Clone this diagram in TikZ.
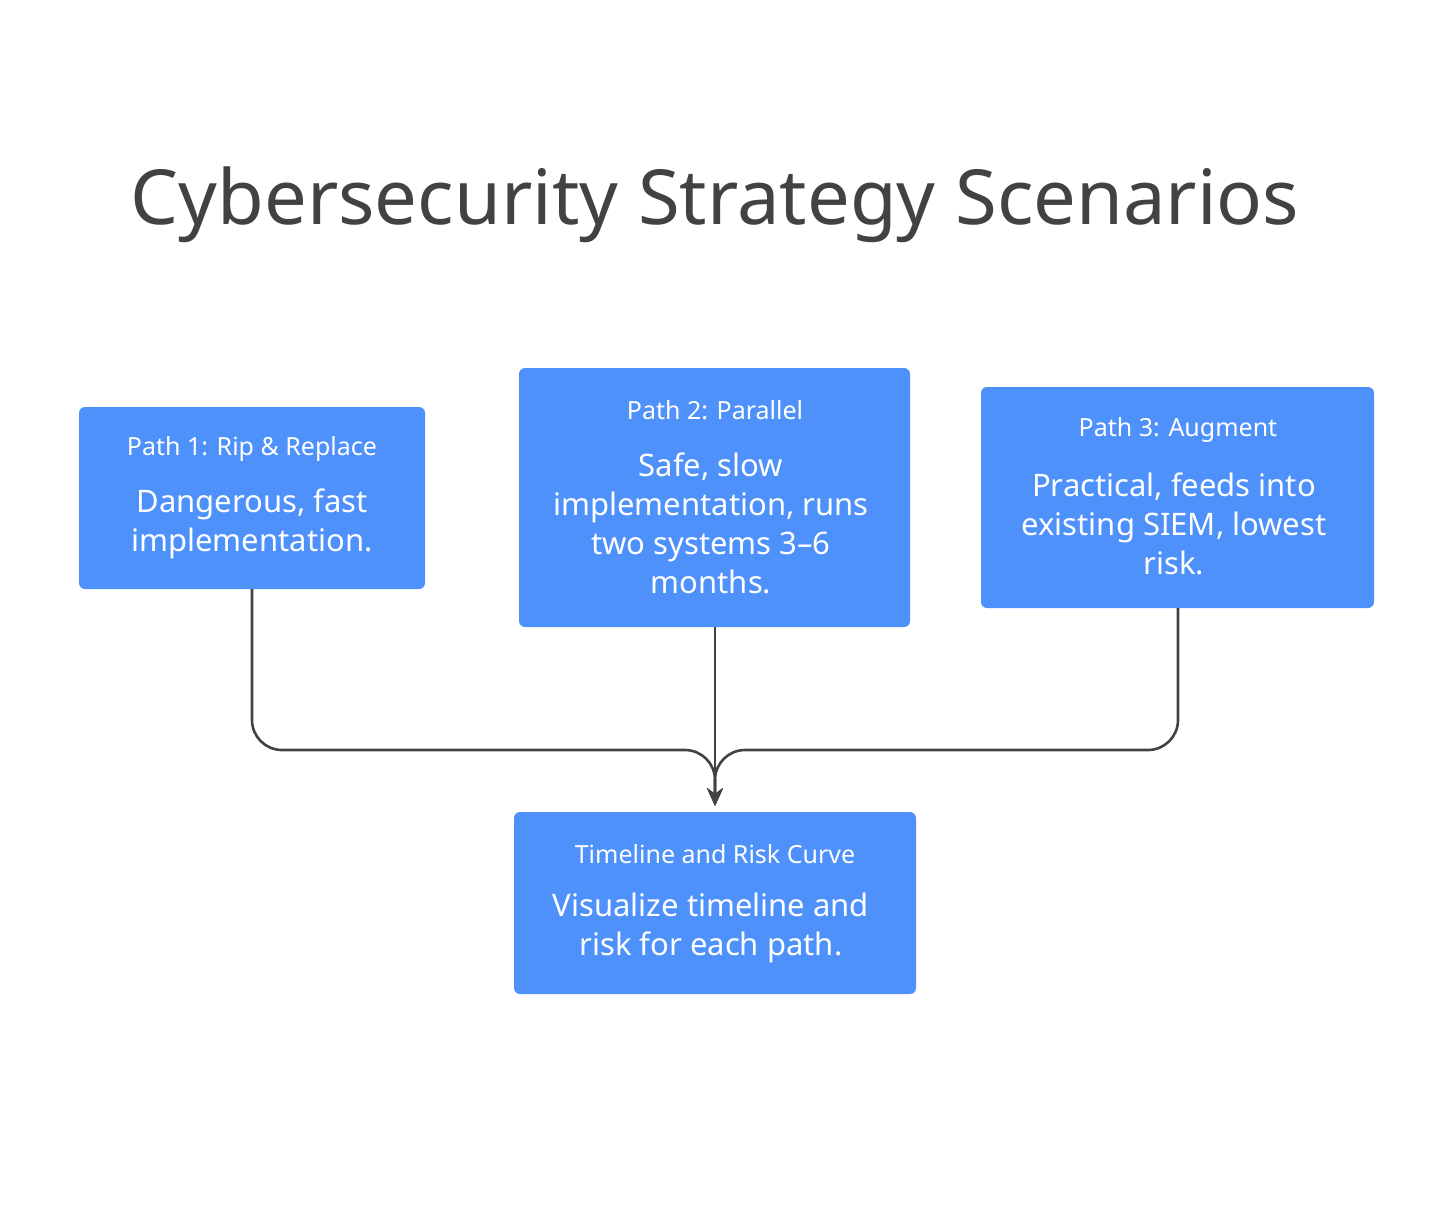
\documentclass[tikz,border=0pt]{standalone}
\usepackage{fontspec}
\setmainfont{Noto Sans}
\usetikzlibrary{arrows.meta}
\definecolor{boxblue}{HTML}{4F91FB}
\definecolor{ink}{HTML}{424242}
\tikzset{
  card/.style={fill=boxblue,rounded corners=6pt,draw=none},
  hdr/.style={text=white,font=\fontsize{25}{30}\selectfont\bfseries},
  bdy/.style={text=white,font=\fontsize{31}{39}\selectfont,align=center},
  conn/.style={draw=ink,line width=2.6pt,rounded corners=30pt,-{Stealth[length=18pt,width=16pt]}}
}
\begin{document}
\begin{tikzpicture}[x=1pt,y=-1pt]
\useasboundingbox[fill=white] (0,0) rectangle (1456,1221);
\node[text=ink,font=\fontsize{76}{80}\selectfont\bfseries] (title) at (715,205) {Cybersecurity Strategy Scenarios};
\path[card] (79,407) rectangle (425,589);
\path[card] (519,368) rectangle (910,627);
\path[card] (981,387) rectangle (1374,608);
\path[card] (514,812) rectangle (916,994);
\coordinate (b1) at (252,589);
\coordinate (b2) at (715,627);
\coordinate (b3) at (1178,608);
\coordinate (m) at (715,750);
\coordinate (t) at (715,806);
\node[hdr] (h1) at (252,449) {Path 1: Rip \& Replace};
\node[bdy] (t1) at (252,524) {Dangerous, fast\\implementation.};
\node[hdr] (h2) at (715,410) {Path 2: Parallel};
\node[bdy] (t2) at (711,523) {Safe, slow\\implementation, runs\\two systems 3–6\\months.};
\node[hdr] (h3) at (1178,430) {Path 3: Augment};
\node[bdy] (t3) at (1174,524) {Practical, feeds into\\existing SIEM, lowest\\risk.};
\node[hdr] (h4) at (715,854) {Timeline and Risk Curve};
\node[bdy] (t4) at (711,928) {Visualize timeline and\\risk for each path.};
\draw[conn] (b1) |- (m) -- (t);
\draw[conn] (b3) |- (m) -- (t);
\draw[conn] (b2) -- (t);
\end{tikzpicture}
\end{document}
